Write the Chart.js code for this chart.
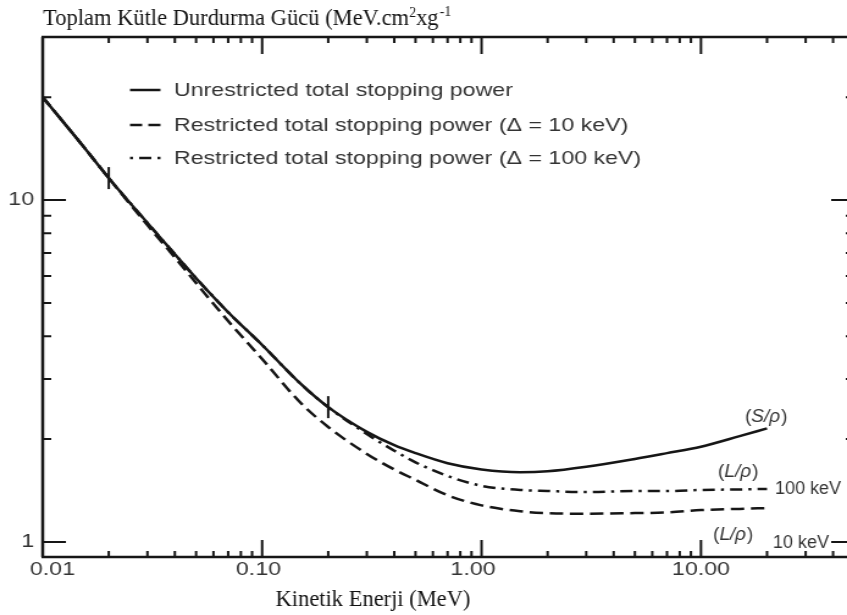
<!DOCTYPE html>
<html>
<head>
<meta charset="utf-8">
<script src="https://cdn.jsdelivr.net/npm/chart.js@4.4.1/dist/chart.umd.min.js"></script>
<style>
  html, body { margin: 0; padding: 0; background: #fff; }
  #chart { display: block; }
</style>
</head>
<body>
<canvas id="chart" width="694" height="615" style="width:847px;height:615px"></canvas>
<script>
// the original figure is stretched sideways, so the canvas is drawn narrow and widened by css
const STRETCH = 847 / 694;

const energy = [0.01, 0.015, 0.02, 0.03, 0.04, 0.05, 0.07, 0.1, 0.15, 0.2, 0.3, 0.4, 0.5, 0.7, 1, 1.5, 2, 3, 5, 7, 10, 15, 20];
const unrestricted = [20.0, 14.6, 11.6, 8.58, 6.95, 5.91, 4.70, 3.77, 2.90, 2.48, 2.10, 1.92, 1.82, 1.70, 1.63, 1.60, 1.61, 1.66, 1.75, 1.82, 1.90, 2.04, 2.15];
const restricted10 = [20.0, 14.6, 11.6, 8.45, 6.80, 5.72, 4.43, 3.43, 2.55, 2.17, 1.81, 1.63, 1.52, 1.37, 1.28, 1.23, 1.215, 1.21, 1.215, 1.22, 1.24, 1.25, 1.257];
const restricted100 = [20.0, 14.6, 11.6, 8.58, 6.95, 5.91, 4.70, 3.77, 2.90, 2.48, 2.07, 1.85, 1.71, 1.56, 1.46, 1.42, 1.41, 1.40, 1.41, 1.41, 1.42, 1.425, 1.43];

// small bars on the curve where the restricted curves split off
const markerEnergy = [0.02, 0.2];
const markerValue = [11.6, 2.48];

const seriesLabels = [
  'Unrestricted total stopping power',
  'Restricted total stopping power (\u0394 = 10 keV)',
  'Restricted total stopping power (\u0394 = 100 keV)'
];

const xMajorTicks = [0.01, 0.1, 1, 10];
const xMajorLabels = ['0.01', '0.10', '1.00', '10.00'];
const xMinorTicks = [0.02, 0.03, 0.04, 0.05, 0.06, 0.07, 0.08, 0.09,
  0.2, 0.3, 0.4, 0.5, 0.6, 0.7, 0.8, 0.9,
  2, 3, 4, 5, 6, 7, 8, 9,
  20, 30, 40];
const yMajorTicks = [1, 10];
const yMajorLabels = ['1', '10'];
const yMinorTicks = [2, 3, 4, 5, 6, 7, 8, 9, 20];

const xFrameEnd = 50; // right frame of the figure, just past the picture edge
// the labels in the source are not all centred on their ticks (canvas px)
const xLabelNudge = [8, -3, -7, 0];

const titleY = 'Toplam K\u00fctle Durdurma G\u00fcc\u00fc (MeV.cm';
const titleX = 'Kinetik Enerji (MeV)';

const INK = '#161616';
const TEXT = '#333';
const SANS = '"Liberation Sans", Arial, Helvetica, sans-serif';
const SERIF = '"Liberation Serif", "Times New Roman", Times, serif';

function toPoints(xs, ys) {
  return xs.map((x, i) => ({ x: x, y: ys[i] }));
}

function tickList(major, minor) {
  return major.concat(minor).sort((a, b) => a - b).map(v => ({ value: v, major: major.includes(v) }));
}

// text that was pasted onto the figure unstretched
function plainText(ctx, str, pageX, y, font, align) {
  ctx.save();
  ctx.scale(1 / STRETCH, 1);
  ctx.font = font;
  ctx.textAlign = align || 'left';
  ctx.textBaseline = 'alphabetic';
  ctx.fillText(str, pageX, y);
  const w = ctx.measureText(str).width;
  ctx.restore();
  return w;
}

const framePlugin = {
  id: 'frame',
  afterDatasetsDraw(chart) {
    const ctx = chart.ctx;
    const area = chart.chartArea;
    const xs = chart.scales.x;
    const ys = chart.scales.y;
    const right = xs.getPixelForValue(xFrameEnd);
    ctx.save();
    ctx.strokeStyle = INK;
    ctx.lineCap = 'butt';

    ctx.lineWidth = 2.5;
    ctx.beginPath();
    ctx.moveTo(area.left, area.top);
    ctx.lineTo(area.left, area.bottom);
    ctx.moveTo(area.left - 1, area.bottom);
    ctx.lineTo(right, area.bottom);
    ctx.moveTo(area.left - 1, area.top);
    ctx.lineTo(right, area.top);
    ctx.stroke();

    ctx.lineWidth = 2;
    ctx.beginPath();
    xs.ticks.forEach(t => {
      const px = xs.getPixelForValue(t.value);
      const len = t.major ? 17 : 6;
      ctx.moveTo(px, area.bottom);
      ctx.lineTo(px, area.bottom - len);
      ctx.moveTo(px, area.top);
      ctx.lineTo(px, area.top + len);
    });
    ys.ticks.forEach(t => {
      const py = ys.getPixelForValue(t.value);
      const len = t.major ? 19 : 7;
      ctx.moveTo(area.left, py);
      ctx.lineTo(area.left + len, py);
      ctx.moveTo(right, py);
      ctx.lineTo(right - len, py);
    });
    ctx.stroke();

    // x tick labels
    ctx.fillStyle = TEXT;
    ctx.font = '19px ' + SANS;
    ctx.textAlign = 'center';
    ctx.textBaseline = 'alphabetic';
    xMajorTicks.forEach((v, i) => {
      ctx.fillText(xMajorLabels[i], xs.getPixelForValue(v) + xLabelNudge[i], area.bottom + 18);
    });
    ctx.restore();
  },
  afterDraw(chart) {
    const ctx = chart.ctx;
    ctx.save();

    // legend, built from the datasets
    const rows = [90, 125, 158];
    chart.data.datasets.slice(0, 3).forEach((ds, i) => {
      const y = rows[i];
      ctx.strokeStyle = INK;
      ctx.lineWidth = 2.5;
      ctx.setLineDash(ds.legendDash || []);
      ctx.beginPath();
      ctx.moveTo(106.5, y);
      ctx.lineTo(131.5, y);
      ctx.stroke();
      ctx.setLineDash([]);
      ctx.fillStyle = TEXT;
      ctx.font = '19px ' + SANS;
      ctx.textBaseline = 'middle';
      ctx.textAlign = 'left';
      ctx.fillText(ds.label, 142.5, y + 1);
    });

    // curve tags on the right
    ctx.fillStyle = TEXT;
    const tag = (x, y, letter) => {
      let w = plainText(ctx, '(', x, y, '19px ' + SANS);
      w += plainText(ctx, letter + '/\u03c1', x + w, y, 'italic 19px ' + SANS);
      plainText(ctx, ')', x + w + 1, y, '19px ' + SANS);
    };
    tag(745, 422, 'S');
    tag(718, 477, 'L');
    tag(713, 540, 'L');
    plainText(ctx, '100 keV', 775, 494, '18px ' + SANS);
    plainText(ctx, '10 keV', 773, 548, '18px ' + SANS);

    // axis titles in Times
    ctx.fillStyle = '#111';
    let w = plainText(ctx, titleY, 43, 25, '22.5px ' + SERIF);
    w += plainText(ctx, '2', 43 + w, 17, '14px ' + SERIF);
    w += plainText(ctx, 'xg', 43 + w, 25, '22.5px ' + SERIF);
    plainText(ctx, '-1', 43 + w + 1, 16, '14px ' + SERIF);
    plainText(ctx, titleX, 373, 606, '22.5px ' + SERIF, 'center');

    ctx.restore();
  }
};

const ctx = document.getElementById('chart').getContext('2d');
Chart.defaults.font.family = SANS;

new Chart(ctx, {
  type: 'line',
  data: {
    datasets: [
      {
        label: seriesLabels[0],
        data: toPoints(energy, unrestricted),
        borderColor: INK,
        borderWidth: 2.5,
        pointRadius: 0,
        cubicInterpolationMode: 'monotone',
        legendDash: []
      },
      {
        label: seriesLabels[1],
        data: toPoints(energy, restricted10),
        borderColor: INK,
        borderWidth: 2.5,
        borderDash: [11, 5.5],
        pointRadius: 0,
        cubicInterpolationMode: 'monotone',
        legendDash: [10, 5]
      },
      {
        label: seriesLabels[2],
        data: toPoints(energy, restricted100),
        borderColor: INK,
        borderWidth: 2.5,
        borderDash: [10, 5, 2.5, 5],
        pointRadius: 0,
        cubicInterpolationMode: 'monotone',
        legendDash: [2.5, 5, 10, 5]
      },
      {
        label: 'marks',
        data: toPoints(markerEnergy, markerValue),
        showLine: false,
        pointStyle: 'line',
        rotation: 90,
        pointRadius: 11,
        pointBorderWidth: 2,
        pointBorderColor: INK,
        borderColor: INK
      }
    ]
  },
  options: {
    responsive: false,
    animation: false,
    devicePixelRatio: 1,
    events: [],
    layout: { autoPadding: false, padding: { top: 37, left: 0, right: 0, bottom: 0 } },
    plugins: {
      legend: { display: false },
      tooltip: { enabled: false }
    },
    scales: {
      x: {
        type: 'logarithmic',
        min: 0.01,
        max: 46.3,
        grid: { display: false, drawTicks: false },
        border: { display: false },
        afterBuildTicks: scale => { scale.ticks = tickList(xMajorTicks, xMinorTicks); },
        afterFit: scale => {
          scale.height = 58;
          scale.paddingLeft = 0;
          scale.paddingRight = 0;
        },
        ticks: { display: false, autoSkip: false }
      },
      y: {
        type: 'logarithmic',
        min: 0.904,
        max: 30,
        grid: { display: false, drawTicks: false },
        border: { display: false },
        afterBuildTicks: scale => { scale.ticks = tickList(yMajorTicks, yMinorTicks); },
        afterFit: scale => {
          scale.width = 35;
          scale.paddingTop = 0;
          scale.paddingBottom = 0;
        },
        ticks: {
          autoSkip: false,
          padding: 7,
          color: TEXT,
          font: { size: 19 },
          callback: value => {
            const i = yMajorTicks.indexOf(value);
            return i >= 0 ? yMajorLabels[i] : '';
          }
        }
      }
    }
  },
  plugins: [framePlugin]
});
</script>
</body>
</html>
